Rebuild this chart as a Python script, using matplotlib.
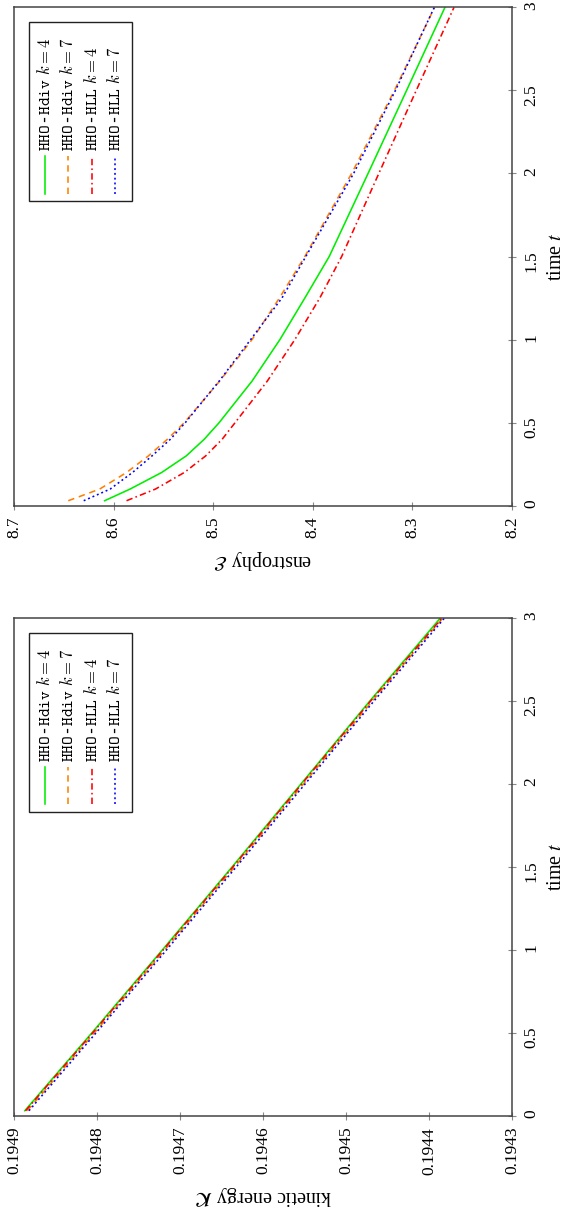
import matplotlib
matplotlib.use('Agg')
import matplotlib.pyplot as plt
from matplotlib.patches import Rectangle

plt.rcParams['font.family'] = 'serif'
plt.rcParams['font.serif'] = ['Liberation Serif', 'DejaVu Serif']
plt.rcParams['mathtext.fontset'] = 'stix'

# ---------------- data ----------------
series_names = ['HHO-Hdiv', 'HHO-Hdiv', 'HHO-HLL', 'HHO-HLL']
series_k = [4, 7, 4, 7]

t_kin = [0.03, 0.5, 1.0, 1.5, 2.0, 2.5, 3.0]
K_hdiv4 = [0.194887, 0.194806, 0.194721, 0.194637, 0.194554, 0.194471, 0.194386]
K_hdiv7 = [0.194884, 0.194803, 0.194718, 0.194634, 0.194551, 0.194468, 0.194383]
K_hll4 = [0.194886, 0.194805, 0.194720, 0.194636, 0.194553, 0.194470, 0.194384]
K_hll7 = [0.194882, 0.194801, 0.194716, 0.194632, 0.194549, 0.194466, 0.194381]

t_ens = [0.03, 0.1, 0.2, 0.3, 0.4, 0.5, 0.75, 1.0, 1.25, 1.5, 2.0, 2.5, 3.0]
E_hdiv4 = [8.609, 8.5835, 8.5517, 8.527, 8.509, 8.494, 8.461, 8.433, 8.408, 8.3835, 8.3445, 8.3058, 8.2673]
E_hdiv7 = [8.6455, 8.614, 8.587, 8.565, 8.546, 8.529, 8.4935, 8.461, 8.4335, 8.408, 8.361, 8.318, 8.2777]
E_hll4 = [8.587, 8.558, 8.529, 8.5075, 8.491, 8.478, 8.4457, 8.418, 8.393, 8.371, 8.3337, 8.2961, 8.2582]
E_hll7 = [8.630, 8.6035, 8.581, 8.5614, 8.543, 8.528, 8.494, 8.4624, 8.431, 8.407, 8.359, 8.317, 8.278]

K_ticks = [0.1949, 0.1948, 0.1947, 0.1946, 0.1945, 0.1944, 0.1943]
E_ticks = [8.7, 8.6, 8.5, 8.4, 8.3, 8.2]
t_ticks = [0, 0.5, 1, 1.5, 2, 2.5, 3]
t_tick_labels = ['0', '0.5', '1', '1.5', '2', '2.5', '3']

# ---------------- styles ----------------
colors = ['#00ee00', '#ff8000', '#ff0000', '#0000ff']
dashes = [None, (4, 3), (4, 2, 1, 2), (1.2, 1.8)]
LW = 1.15
SPINE = '#444444'

fig = plt.figure(figsize=(5.67, 12.19), dpi=100)
ax_e = fig.add_axes([0.02469, 0.58515, 0.8783, 0.40886])
ax_k = fig.add_axes([0.02469, 0.08474, 0.8783, 0.40853])


def style_axes(ax, xticks, xticklabels, xlim, xlabel):
    ax.set_xlim(*xlim)
    ax.set_ylim(0, 3)
    ax.set_xticks(xticks)
    ax.set_xticklabels(xticklabels)
    ax.set_yticks(t_ticks)
    ax.set_yticklabels(t_tick_labels)
    ax.yaxis.tick_right()
    ax.yaxis.set_label_position('right')
    for s in ax.spines.values():
        s.set_color(SPINE)
        s.set_linewidth(1.1)
    ax.tick_params(axis='both', direction='inout', length=6, width=0.8,
                   color='#888888', labelsize=12.5, pad=5)
    ax.tick_params(axis='x', labelrotation=90)
    ax.tick_params(axis='y', labelrotation=90)
    ax.set_xlabel(xlabel, rotation=180, fontsize=14.5, labelpad=7)
    ax.set_ylabel('time $t$', rotation=90, fontsize=14.5, labelpad=6)


def plot_series(ax, t, ys):
    for y, c, d in zip(ys, colors, dashes):
        ln, = ax.plot(y, t, color=c, lw=LW)
        if d is not None:
            ln.set_dashes(d)


def draw_legend(ax):
    ax.add_patch(Rectangle((0.0307, 0.6104), 0.2056, 0.3595, transform=ax.transAxes,
                           facecolor='white', edgecolor='#222222', lw=1.0, zorder=5))
    xs = [0.0622, 0.109, 0.156, 0.2028]
    for x, name, k, c, d in zip(xs, series_names, series_k, colors, dashes):
        ln, = ax.plot([x, x], [0.6259, 0.7008], transform=ax.transAxes,
                      color=c, lw=LW, zorder=6)
        if d is not None:
            ln.set_dashes(d)
        main = name.split('-')[1]
        label = r'$\mathtt{HHO}$-$\mathtt{%s}\ k = %d$' % (main, k)
        ax.text(x, 0.7108, label, transform=ax.transAxes, rotation=90,
                ha='center', va='bottom', fontsize=12,
                family='DejaVu Sans Mono', math_fontfamily='cm', zorder=7)


plot_series(ax_e, t_ens, [E_hdiv4, E_hdiv7, E_hll4, E_hll7])
style_axes(ax_e, E_ticks, ['%.1f' % v for v in E_ticks], (8.7, 8.2), r'enstrophy $\mathcal{E}$')
draw_legend(ax_e)

plot_series(ax_k, t_kin, [K_hdiv4, K_hdiv7, K_hll4, K_hll7])
style_axes(ax_k, K_ticks, ['%.4f' % v for v in K_ticks], (0.1949, 0.1943), r'kinetic energy $\mathcal{K}$')
draw_legend(ax_k)

fig.savefig('out.png', dpi=100)
